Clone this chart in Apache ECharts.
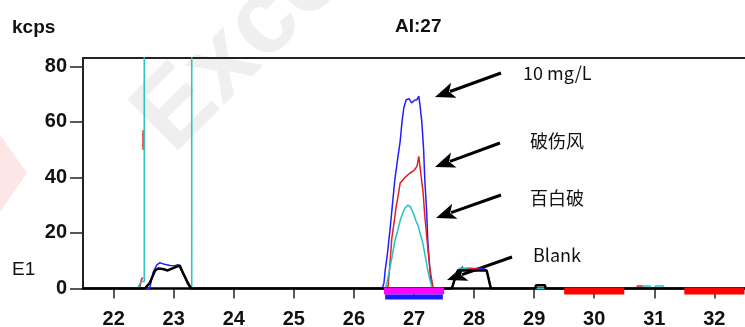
<!DOCTYPE html>
<html>
<head>
<meta charset="utf-8">
<script src="https://cdn.jsdelivr.net/npm/echarts@6/dist/echarts.min.js"></script>
<style>
html, body { margin: 0; padding: 0; background: #fff; }
#graph1 { width: 745px; height: 327px; }
</style>
</head>
<body>
<div id="graph1"></div>
<script>
const xTicks = [22, 23, 24, 25, 26, 27, 28, 29, 30, 31, 32];
const yTicks = [0, 20, 40, 60, 80];

// 10 mg/L (blue)
const std10 = [
    [21.49, 0], [22.6, 0], [22.66, 6], [22.72, 8.5], [22.77, 9.3], [22.85, 8.7], [22.94, 8.3], [23.02, 8.2],
    [23.07, 8.6], [23.1, 8.3], [23.15, 5.8], [23.23, 1.8], [23.29, 0],
    [26.47, 0], [26.5, 2], [26.52, 6.5], [26.56, 13], [26.6, 21], [26.64, 30], [26.68, 39], [26.73, 47],
    [26.77, 53], [26.8, 60], [26.83, 65], [26.87, 68], [26.92, 68.3], [26.96, 66.8], [27.01, 67.8], [27.05, 68],
    [27.08, 69.3], [27.1, 66], [27.13, 60], [27.16, 50], [27.18, 39], [27.21, 28], [27.23, 17], [27.26, 8],
    [27.28, 3], [27.31, 0],
    [27.63, 0], [27.68, 3.5], [27.73, 6.5], [27.8, 6.8], [28.1, 7.3], [28.17, 7.1], [28.21, 6.5], [28.28, 0],
    [32.51, 0],
];
// 破伤风 (red)
const tetanus = [
    [21.49, 0], [22.43, 0], [22.46, 3], [22.48, 4], [22.485, '-'],
    [22.49, 50], [22.49, 57], [22.495, '-'],
    [22.52, 0], [22.6, 2], [22.69, 6.5], [22.74, 7.2], [22.82, 7], [22.9, 6.5], [23.02, 7.6],
    [23.1, 8.3], [23.15, 5.8], [23.24, 1.8], [23.29, 0],
    [26.55, 0], [26.57, 1], [26.6, 9], [26.63, 18], [26.67, 24], [26.7, 29], [26.74, 34],
    [26.77, 38], [26.85, 40], [26.93, 41.5], [27.0, 42.5], [27.05, 44], [27.08, 47.6], [27.11, 42],
    [27.15, 35], [27.18, 26], [27.22, 17], [27.25, 10], [27.28, 5], [27.32, 0],
    [27.63, 0], [27.68, 3.5], [27.73, 6.5], [27.78, 7.2], [27.95, 7.3], [28.05, 7.0], [28.21, 6.5], [28.28, 0],
    [30.7, 0], [30.72, 0.9], [30.8, 0.9], [30.82, 0], [32.51, 0],
];
// 百白破 (cyan)
const dtp = [
    [21.49, 0], [22.4, 0], [22.43, 1.5], [22.47, 2.5], [22.51, 2.5], [22.51, 200], [23.3, 200], [23.3, 0],
    [26.52, 0], [26.55, 2], [26.6, 7.5], [26.64, 12], [26.68, 17], [26.73, 21], [26.77, 24.5], [26.81, 27],
    [26.85, 29], [26.9, 30], [26.94, 29.5], [26.97, 28], [27.0, 26.5], [27.03, 24.5], [27.07, 22.5], [27.1, 20],
    [27.14, 17], [27.17, 13.7], [27.2, 10], [27.23, 6.5], [27.26, 3.5], [27.28, 2], [27.3, 0],
    [27.63, 0], [27.68, 3.5], [27.73, 6.5], [27.76, 7.3], [27.85, 7.3], [27.9, 6.8], [28.21, 6.5], [28.28, 0],
    [30.8, 0], [30.82, 0.9], [30.93, 0.9], [30.95, 0], [31.0, 0], [31.02, 0.9], [31.15, 0.9], [31.17, 0],
    [32.51, 0],
];
// Blank (black)
const blank = [
    [21.49, 0], [22.52, 0], [22.6, 2], [22.69, 6.5], [22.74, 7.2], [22.82, 7], [22.9, 6.5], [23.02, 7.6],
    [23.1, 8.3], [23.15, 5.8], [23.24, 1.8], [23.29, 0],
    [27.63, 0], [27.68, 3.5], [27.73, 6.5], [28.21, 6.5], [28.28, 0],
    [29.02, 0], [29.03, 1.2], [29.18, 1.2], [29.19, 0], [32.51, 0],
];
// integration windows under the axis: [from, to, kind]
const bands = [[26.5, 27.5, 0], [26.52, 27.48, 1], [29.5, 30.5, 2], [31.5, 32.5, 2]];
const bandColors = ['#ff00ff', '#1a1aff', '#ff0000'];

function arrow(x1, y1, x2, y2) {
    const dx = x2 - x1, dy = y2 - y1;
    const len = Math.hypot(dx, dy);
    const ux = dx / len, uy = dy / len;
    const hl = 20, hw = 8;
    const bx = x2 - ux * hl, by = y2 - uy * hl;
    return [
        { type: 'line', shape: { x1: x1, y1: y1, x2: bx + ux * 4, y2: by + uy * 4 }, style: { stroke: '#000', lineWidth: 3 } },
        {
            type: 'polygon',
            shape: { points: [[x2, y2], [bx - uy * hw, by + ux * hw], [bx + ux * 5, by + uy * 5], [bx + uy * hw, by - ux * hw]] },
            style: { fill: '#000' },
        },
    ];
}

function label(text, x, y, font) {
    return { type: 'text', style: { text: text, x: x, y: y, fill: '#111', font: font, verticalAlign: 'middle' } };
}

const cjk = '18px "Noto Sans CJK SC"';
const boldFont = 'bold 19px "Liberation Sans"';

const myChart1 = echarts.init(document.getElementById('graph1'));
const option1 = {
    animation: false,
    backgroundColor: '#fff',
    grid: {
        left: 83,
        right: 0,
        top: 58,
        bottom: 38.5,
        outerBoundsMode: 'none',
    },
    graphic: [
        {
            type: 'text',
            x: 190, y: 172,
            rotation: Math.PI / 4,
            z: -10,
            style: { text: 'Excel', fill: '#efefef', font: 'bold 105px "Liberation Sans"', verticalAlign: 'bottom' },
        },
        { type: 'polygon', z: -10, shape: { points: [[0, 135], [27, 173], [0, 212]] }, style: { fill: '#fde6e6' } },
        label('kcps', 12, 28, boldFont),
        label('AI:27', 395, 27, boldFont),
        label('E1', 12, 270, '19px "Liberation Sans"'),
        label('10 mg/L', 523, 73, cjk),
        label('破伤风', 530, 141, cjk),
        label('百白破', 530, 198, cjk),
        label('Blank', 533, 255, cjk),
        ...arrow(501, 73, 435, 97),
        ...arrow(500, 143, 435, 167),
        ...arrow(501, 195, 436, 218),
        ...arrow(512, 257, 447, 280),
    ],
    xAxis: [
        {
            type: 'value',
            min: 21.49,
            max: 32.51,
            axisLine: { onZero: false, lineStyle: { color: '#000', width: 2.5 } },
            axisTick: { customValues: xTicks, length: 10, lineStyle: { color: '#222', width: 1.5 } },
            axisLabel: {
                customValues: xTicks,
                margin: 21,
                fontSize: 20,
                fontWeight: 'bold',
                fontFamily: 'Liberation Sans',
                color: '#111',
            },
            splitLine: { show: false },
        },
        {
            type: 'value',
            position: 'top',
            min: 21.49,
            max: 32.51,
            axisLine: { show: true, onZero: false, lineStyle: { color: '#222', width: 2 } },
            axisTick: { show: false },
            axisLabel: { show: false },
            splitLine: { show: false },
        },
    ],
    yAxis: {
        type: 'value',
        min: 0,
        max: 83,
        axisLine: { show: true, lineStyle: { color: '#222', width: 2 } },
        axisTick: { customValues: yTicks, length: 13, lineStyle: { color: '#222', width: 1.5 } },
        axisLabel: {
            customValues: yTicks,
            margin: 16,
            fontSize: 20,
            fontWeight: 'bold',
            fontFamily: 'Liberation Sans',
            color: '#111',
        },
        splitLine: { show: false },
    },
    series: [
        {
            name: '10 mg/L',
            type: 'line',
            showSymbol: false,
            lineStyle: { color: '#1f1fff', width: 1.5 },
            data: std10,
        },
        {
            name: '破伤风',
            type: 'line',
            showSymbol: false,
            lineStyle: { color: '#e02020', width: 1.5 },
            data: tetanus,
        },
        {
            name: '百白破',
            type: 'line',
            showSymbol: false,
            lineStyle: { color: '#2ec4c4', width: 1.6 },
            data: dtp,
        },
        {
            name: 'Blank',
            type: 'line',
            showSymbol: false,
            lineStyle: { color: '#000', width: 2.5 },
            data: blank,
        },
        {
            type: 'custom',
            z: 5,
            encode: { x: [0, 1] },
            renderItem: function (params, api) {
                const p0 = api.coord([api.value(0), 0]);
                const p1 = api.coord([api.value(1), 0]);
                const kind = api.value(2);
                const top = kind === 1 ? p0[1] + 6 : p0[1] - 1;
                const h = kind === 1 ? 5 : 7;
                return {
                    type: 'rect',
                    shape: { x: p0[0], y: top, width: p1[0] - p0[0], height: h },
                    style: { fill: bandColors[kind] },
                };
            },
            data: bands,
        },
    ],
};
myChart1.setOption(option1);
window.addEventListener('resize', myChart1.resize);
</script>
</body>
</html>
